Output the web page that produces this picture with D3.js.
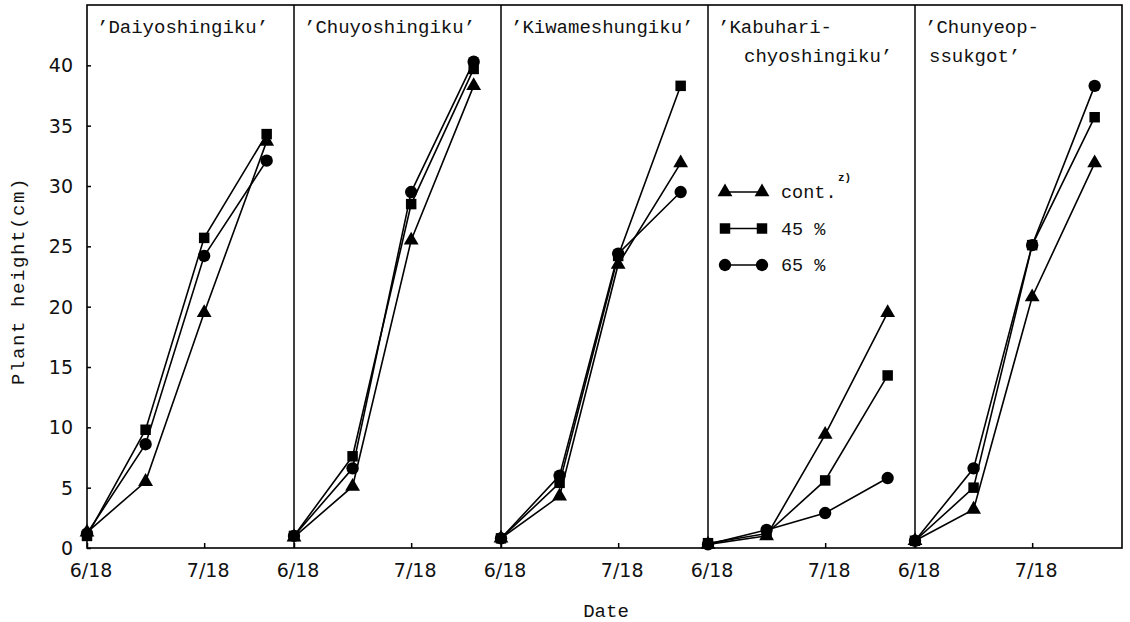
<!DOCTYPE html>
<html>
<head>
<meta charset="utf-8">
<script src="https://cdn.jsdelivr.net/npm/d3@7"></script>
<style>
  body { margin: 0; background: #fff; }
  svg text { fill: #111; }
  .mono { font-family: "Liberation Mono", "DejaVu Sans Mono", monospace; }
  .sans { font-family: "DejaVu Sans", sans-serif; }
</style>
</head>
<body>
<svg id="chart" width="1130" height="622"></svg>
<script>
// cultivars, one panel each (title lines)
var cultivars = [
    ["\u2019Daiyoshingiku\u2019"],
    ["\u2019Chuyoshingiku\u2019"],
    ["\u2019Kiwameshungiku\u2019"],
    ["\u2019Kabuhari-", "chyoshingiku\u2019"],
    ["\u2019Chunyeop-", "ssukgot\u2019"]
];
// sampling days counted from 6/18
var sampleDays = [0, 15, 30, 46];
var xTickDays = [0, 30];
var xTickLabels = ["6/18", "7/18"];
var yTicks = [0, 5, 10, 15, 20, 25, 30, 35, 40];

// plant height (cm), one row per cultivar
var contHeights = [
    [1.3, 5.5, 19.5, 33.7],
    [0.9, 5.1, 25.5, 38.3],
    [0.8, 4.3, 23.5, 31.9],
    [0.3, 1.0, 9.4, 19.5],
    [0.6, 3.2, 20.8, 31.9]
];
var shade45Heights = [
    [1.0, 9.8, 25.7, 34.3],
    [1.0, 7.6, 28.5, 39.7],
    [0.8, 5.4, 24.2, 38.3],
    [0.4, 1.2, 5.6, 14.3],
    [0.6, 5.0, 25.1, 35.7]
];
var shade65Heights = [
    [1.2, 8.6, 24.2, 32.1],
    [1.0, 6.6, 29.5, 40.3],
    [0.8, 6.0, 24.4, 29.5],
    [0.3, 1.5, 2.9, 5.8],
    [0.6, 6.6, 25.1, 38.3]
];

var treatments = [
    {label: "cont.", sup: "z)", values: contHeights, symbol: d3.symbolTriangle, size: 95},
    {label: "45 %", values: shade45Heights, symbol: d3.symbolSquare, size: 110},
    {label: "65 %", values: shade65Heights, symbol: d3.symbolCircle, size: 120}
];

var svg = d3.select("#chart");
var plotL = 87, plotR = 1122, plotT = 5, plotB = 548;

var panelScale = d3.scaleBand().domain(d3.range(cultivars.length)).range([plotL, plotR]);
var y = d3.scaleLinear().domain([0, 45]).range([plotB, plotT]);
var pw = panelScale.bandwidth();

// frame
svg.append("rect").attr("x", plotL).attr("y", plotT).attr("width", plotR - plotL)
    .attr("height", plotB - plotT).attr("fill", "none").attr("stroke", "#000").attr("stroke-width", 1.6);

// y axis
var yAxis = svg.append("g").attr("transform", "translate(" + plotL + ",0)")
    .call(d3.axisRight(y).tickValues(yTicks).tickSize(4).tickFormat(""));
yAxis.select(".domain").remove();
yAxis.selectAll("line").attr("stroke", "#000").attr("stroke-width", 1.5);
svg.selectAll(".ylab").data(yTicks).enter().append("text")
    .attr("class", "sans").attr("x", 73).attr("y", function (d) { return y(d) + 7; })
    .attr("text-anchor", "end").attr("font-size", 19).text(function (d) { return d; });

svg.append("text").attr("class", "mono")
    .attr("transform", "translate(24,281) rotate(-90)")
    .attr("text-anchor", "middle").attr("font-size", 19).attr("letter-spacing", 1.6)
    .text("Plant height(cm)");

svg.append("text").attr("class", "mono").attr("x", 606).attr("y", 617)
    .attr("text-anchor", "middle").attr("font-size", 19).text("Date");

var line = d3.line();

cultivars.forEach(function (title, i) {
    var x0 = panelScale(i);
    var x = d3.scaleLinear().domain([0, 53]).range([x0, x0 + pw]);
    var g = svg.append("g");

    // divider
    if (i > 0) {
        g.append("line").attr("x1", x0).attr("x2", x0).attr("y1", plotT).attr("y2", plotB)
            .attr("stroke", "#000").attr("stroke-width", 1.5);
    }

    var xa = g.append("g").attr("transform", "translate(0," + plotB + ")")
        .call(d3.axisTop(x).tickValues(xTickDays).tickSize(5).tickFormat(""));
    xa.select(".domain").remove();
    xa.selectAll("line").attr("stroke", "#000").attr("stroke-width", 1.5);

    g.selectAll(".xlab").data(xTickDays).enter().append("text")
        .attr("class", "sans").attr("x", function (d) { return x(d) + 4; }).attr("y", 577)
        .attr("text-anchor", "middle").attr("font-size", 19)
        .text(function (d, j) { return xTickLabels[j]; });

    title.forEach(function (t, k) {
        g.append("text").attr("class", "mono")
            .attr("x", x0 + 10 + (i == 3 && k == 1 ? 26 : 0) + (i == 4 && k == 1 ? 4 : 0))
            .attr("y", 33 + k * 29).attr("font-size", 19).text(t);
    });

    treatments.forEach(function (tr) {
        var pts = sampleDays.map(function (d, j) { return [x(d), y(tr.values[i][j])]; });
        g.append("path").attr("d", line(pts)).attr("fill", "none")
            .attr("stroke", "#000").attr("stroke-width", 1.6);
        g.selectAll(null).data(pts).enter().append("path")
            .attr("d", d3.symbol().type(tr.symbol).size(tr.size))
            .attr("transform", function (p) { return "translate(" + p[0] + "," + p[1] + ")"; })
            .attr("fill", "#000");
    });
});

// legend inside the 4th panel
var legend = svg.append("g").attr("transform", "translate(725,192)");
treatments.forEach(function (tr, k) {
    var row = legend.append("g").attr("transform", "translate(0," + k * 36.5 + ")");
    row.append("line").attr("x1", 0).attr("x2", 37).attr("stroke", "#000").attr("stroke-width", 1.6);
    [0, 37].forEach(function (px) {
        row.append("path").attr("d", d3.symbol().type(tr.symbol).size(tr.size)())
            .attr("transform", "translate(" + px + ",0)").attr("fill", "#000");
    });
    row.append("text").attr("class", "mono").attr("x", 56).attr("y", 6)
        .attr("font-size", 18.5).text(tr.label);
    if (tr.sup) {
        row.append("text").attr("class", "mono").attr("x", 113).attr("y", -11)
            .attr("font-size", 11).attr("font-weight", "bold").text(tr.sup);
    }
});
</script>
</body>
</html>
